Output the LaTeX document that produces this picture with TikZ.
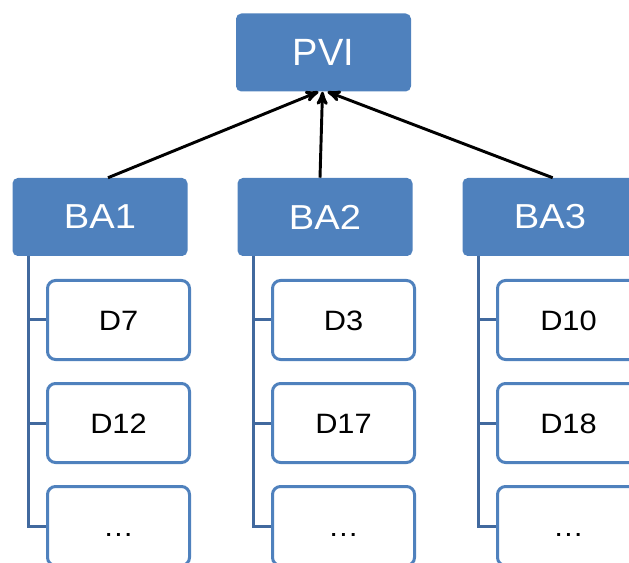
\documentclass[tikz,border=0pt]{standalone}
\usepackage{fontspec}
\setmainfont{Liberation Sans}
\newfontfamily\widefont[FakeStretch=1.1]{Liberation Sans}
\usetikzlibrary{arrows,positioning}
\definecolor{boxblue}{HTML}{4F81BD}
\definecolor{treeblue}{HTML}{41699E}

\begin{document}
\begin{tikzpicture}[x=0.75pt,y=-0.75pt,->,>=stealth',on grid,node distance=77.25pt and 168.75pt,
    head node/.style={rectangle,rounded corners=4pt,fill=boxblue,text=white,minimum width=131.25pt,minimum height=58.5pt,font=\widefont\fontsize{26}{30}\selectfont},
    leaf node/.style={rectangle,rounded corners=6pt,draw=boxblue,line width=2.25pt,fill=white,minimum width=106.5pt,minimum height=59.25pt,text height=15pt,text depth=0pt,font=\widefont\fontsize{21}{25}\selectfont},
    tree line/.style={-,draw=treeblue,line width=2.25pt},
    link/.style={line width=2.2pt}]
    \useasboundingbox (0,0) rectangle (629,563);
    \node[head node,font=\fontsize{28.5}{32}\selectfont] (pvi) at (323.5,52.5) {PVI};
    \node[head node] (ba1) at (100,217) {BA1};
    \node[head node] (ba2) [right=of ba1] {BA2};
    \node[head node] (ba3) [right=of ba2] {BA3};

    \node[leaf node] (d7) [below right=77.25pt and 13.875pt of ba1] {D7};
    \node[leaf node] (d12) [below=of d7] {D12};
    \node[leaf node] (more1) [below=of d12] {…};
    \node[leaf node] (d3) [below right=77.25pt and 13.875pt of ba2] {D3};
    \node[leaf node] (d17) [below=of d3] {D17};
    \node[leaf node] (more2) [below=of d17] {…};
    \node[leaf node] (d10) [below right=77.25pt and 13.875pt of ba3] {D10};
    \node[leaf node] (d18) [below=of d10] {D18};
    \node[leaf node] (more3) [below=of d18] {…};

    \coordinate (t1) at ([xshift=12pt]ba1.south west);
    \coordinate (t2) at ([xshift=12pt]ba2.south west);
    \coordinate (t3) at ([xshift=12pt]ba3.south west);

    \draw[tree line] (t1) |- (more1.west);
    \draw[tree line] (t1 |- d7) -- (d7.west);
    \draw[tree line] (t1 |- d12) -- (d12.west);
    \draw[tree line] (t2) |- (more2.west);
    \draw[tree line] (t2 |- d3) -- (d3.west);
    \draw[tree line] (t2 |- d17) -- (d17.west);
    \draw[tree line] (t3) |- (more3.west);
    \draw[tree line] (t3 |- d10) -- (d10.west);
    \draw[tree line] (t3 |- d18) -- (d18.west);

    \draw[link] ([xshift=6pt]ba1.north) -- ([xshift=-3.75pt]pvi.south);
    \draw[link] ([xshift=-3.75pt]ba2.north) -- ([xshift=-0.75pt]pvi.south);
    \draw[link] ([xshift=2pt]ba3.north) -- ([xshift=3pt]pvi.south);
\end{tikzpicture}
\end{document}
